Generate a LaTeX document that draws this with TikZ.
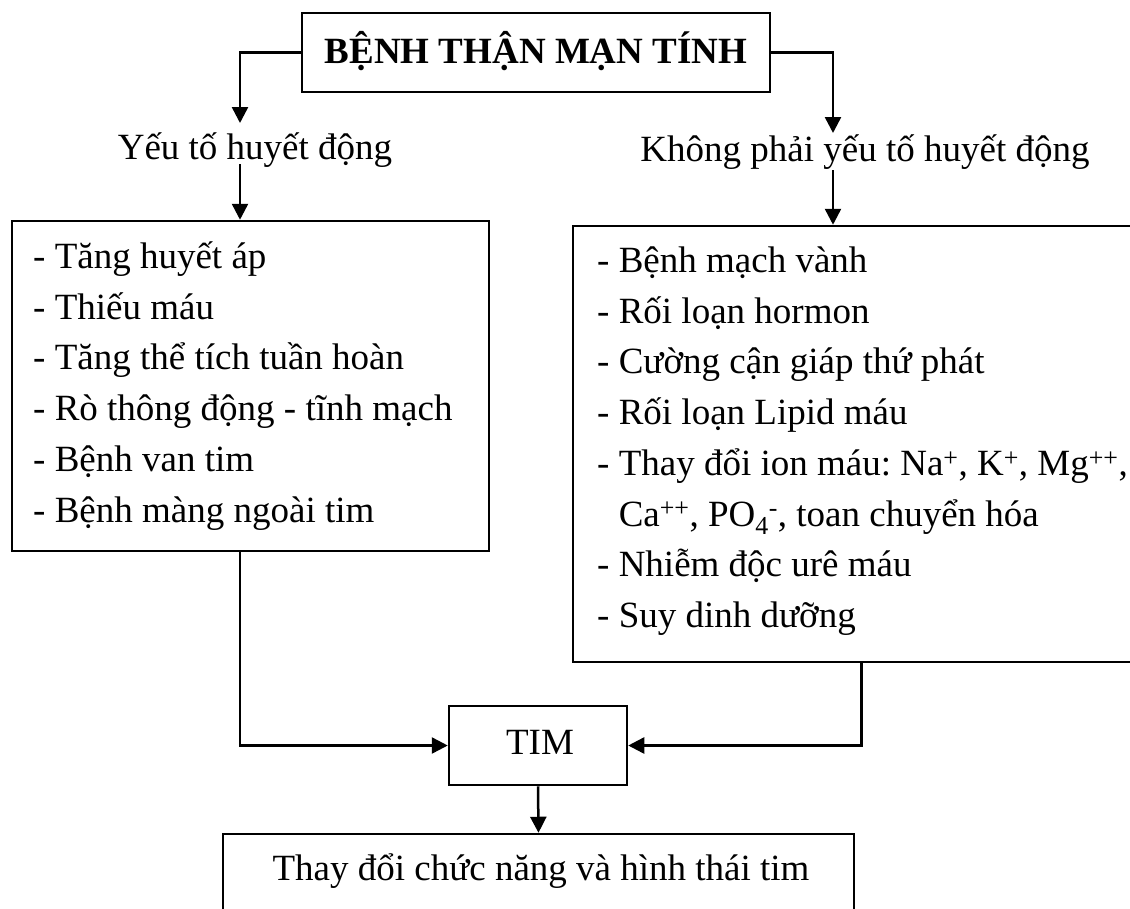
\documentclass[tikz,border=0pt]{standalone}
\usepackage{fontspec}
\setmainfont{Liberation Serif}
\usetikzlibrary{arrows.meta}
\frenchspacing
\begin{document}
\begin{tikzpicture}[x=1pt,y=-1pt,
  box/.style={draw, line width=2.5pt, inner sep=0pt},
  txt/.style={inner sep=0pt, font=\fontsize{37}{50.7}\selectfont},
  list/.style={txt, anchor=base west},
  arr/.style={line width=2.5pt, -{Triangle[length=16pt,width=16pt]}}]
\useasboundingbox (0,0) rectangle (1130,908);
\clip (0,0) rectangle (1130,908);
% boxes
\node[box, minimum width=468pt, minimum height=79pt] (top) at (536,52.5) {};
\node[box, minimum width=477pt, minimum height=330pt] (lbox) at (250.5,386) {};
\node[box, minimum width=577pt, minimum height=436pt] (rbox) at (861.5,444) {};
\node[box, minimum width=178pt, minimum height=79pt] (tim) at (538,745.5) {};
\node[box, minimum width=631pt, minimum height=106pt] (bot) at (538.5,887) {};
% texts
\node[txt, anchor=base, font=\fontsize{37}{45}\selectfont\bfseries] (toptxt) at (536,63) {BỆNH THẬN MẠN TÍNH};
\node[txt, anchor=base] (lab1) at (255,159) {Yếu tố huyết động};
\node[txt, anchor=base] (lab2) at (865,161) {Không phải yếu tố huyết động};
\node[list] (ltxt) at (33,268.5) {\begin{tabular}[t]{@{}l@{}}- Tăng huyết áp\\
- Thiếu máu\\
- Tăng thể tích tuần hoàn\\
- Rò thông động - tĩnh mạch\\
- Bệnh van tim\\
- Bệnh màng ngoài tim\end{tabular}};
\node[list] (rtxt) at (597,272.5) {\begin{tabular}[t]{@{}l@{}}- Bệnh mạch vành\\
- Rối loạn hormon\\
- Cường cận giáp thứ phát\\
- Rối loạn Lipid máu\\
- Thay đổi ion máu: Na\textsuperscript{+}, K\textsuperscript{+}, Mg\textsuperscript{++},\\
\phantom{- }Ca\textsuperscript{++}, PO\textsubscript{4}\textsuperscript{-}, toan chuyển hóa\\
- Nhiễm độc urê máu\\
- Suy dinh dưỡng\end{tabular}};
\node[txt, anchor=base] (timtxt) at (540,754) {TIM};
\node[txt, anchor=base] (bottxt) at (541,880) {Thay đổi chức năng và hình thái tim};
% connectors
\coordinate (a1) at (240,123);
\coordinate (a2) at (240,164);
\coordinate (b1) at (833,133);
\coordinate (b2) at (833,170);
\draw[arr] (top.west) -| (a1);
\draw[arr] (a2) -- (a2 |- lbox.north);
\draw[arr] (top.east) -| (b1);
\draw[arr] (b2) -- (b2 |- rbox.north);
\draw[arr] (a2 |- lbox.south) |- (tim.west);
\draw[arr] (rbox.south) |- (tim.east);
\draw[arr] (tim.south) -- (bot.north);
\end{tikzpicture}
\end{document}
